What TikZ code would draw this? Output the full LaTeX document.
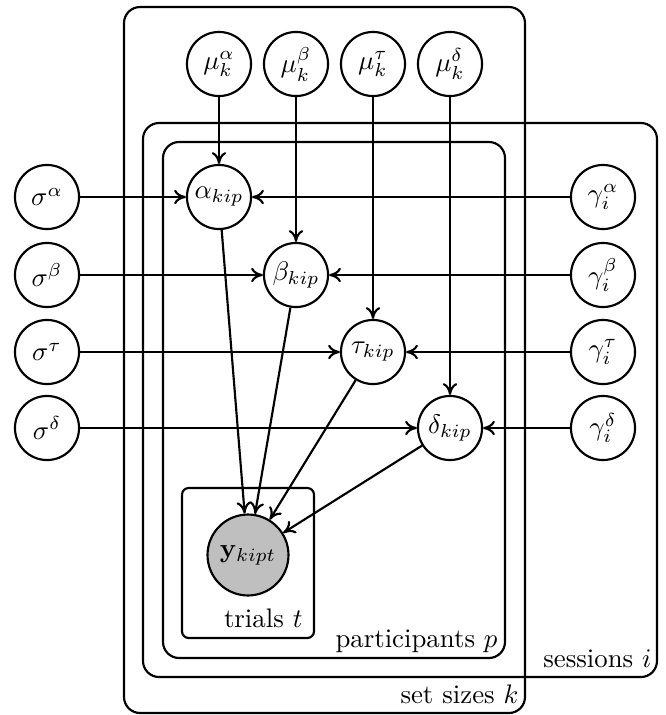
\documentclass[tikz,border=0pt]{standalone}
\usetikzlibrary{arrows.meta}
\begin{document}
\begin{tikzpicture}[x=0.373pt,y=-0.373pt,
  latent/.style={circle,draw,thick,fill=white,minimum size=23.9pt,inner sep=0pt},
  obs/.style={latent,fill=gray!50,minimum size=30.2pt},
  plate/.style={draw,thick,rounded corners=6pt},
  smallplate/.style={draw,thick,rounded corners=2.5pt},
  platelabel/.style={anchor=base east,inner sep=0pt},
  edge/.style={thick,-{To[length=4.4pt,width=5.4pt]}}]
\useasboundingbox (0,0) rectangle (665,715);
% plates
\draw[plate] (124,7) rectangle (525,713);
\draw[plate] (143,123) rectangle (657,677);
\draw[plate] (163,142) rectangle (505,658);
\draw[smallplate] (182,488) rectangle (314,638);
\node[platelabel] (lk) at (519,703) {set sizes $k$};
\node[platelabel] (li) at (652,667) {sessions $i$};
\node[platelabel] (lp) at (498,647) {participants $p$};
\node[platelabel] (lt) at (303,627) {trials $t$};
% nodes
\node[latent] (mua) at (219,64) {$\mu_k^\alpha$};
\node[latent] (mub) at (296,64) {$\mu_k^\beta$};
\node[latent] (mut) at (373,64) {$\mu_k^\tau$};
\node[latent] (mud) at (450,64) {$\mu_k^\delta$};
\node[latent] (sa) at (47,197) {$\sigma^\alpha$};
\node[latent] (sb) at (47,275) {$\sigma^\beta$};
\node[latent] (st) at (47,352) {$\sigma^\tau$};
\node[latent] (sd) at (47,428) {$\sigma^\delta$};
\node[latent] (ga) at (603,197) {$\gamma_i^\alpha$};
\node[latent] (gb) at (603,275) {$\gamma_i^\beta$};
\node[latent] (gt) at (603,352) {$\gamma_i^\tau$};
\node[latent] (gd) at (603,428) {$\gamma_i^\delta$};
\node[latent] (a) at (219,197) {$\alpha_{kip}$};
\node[latent] (b) at (296,275) {$\beta_{kip}$};
\node[latent] (t) at (373,352) {$\tau_{kip}$};
\node[latent] (d) at (450,428) {$\delta_{kip}$};
\node[obs] (y) at (248,555) {$\mathbf{y}_{kipt}$};
% edges
\foreach \m/\n in {mua/a,mub/b,mut/t,mud/d,sa/a,sb/b,st/t,sd/d,ga/a,gb/b,gt/t,gd/d,a/y,b/y,t/y,d/y}
  \draw[edge] (\m) -- (\n);
\end{tikzpicture}
\end{document}
